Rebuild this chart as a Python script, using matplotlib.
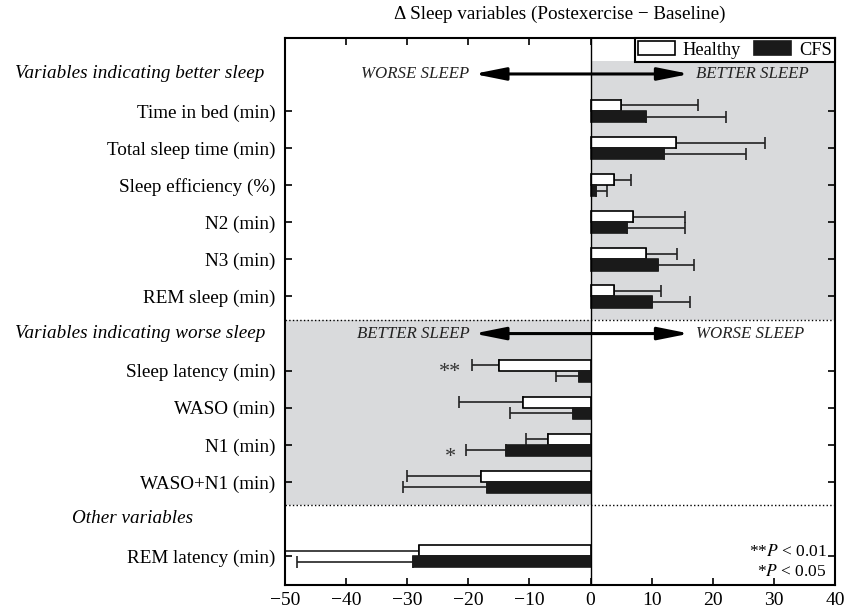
import matplotlib.pyplot as plt
import numpy as np

plt.rcParams['font.family'] = ['Liberation Serif', 'DejaVu Serif']
plt.rcParams['mathtext.fontset'] = 'stix'

# group headers and the variables in each group
groups = ["Variables indicating better sleep",
          "Variables indicating worse sleep",
          "Other variables"]
group_vars = [
    ["Time in bed (min)", "Total sleep time (min)", "Sleep efficiency (%)",
     "N2 (min)", "N3 (min)", "REM sleep (min)"],
    ["Sleep latency (min)", "WASO (min)", "N1 (min)", "WASO+N1 (min)"],
    ["REM latency (min)"],
]

# change (postexercise - baseline) and error bar length
healthy = [5.0, 14.0, 3.9, 6.9, 9.0, 3.9, -15.0, -11.0, -7.0, -18.0, -28.0]
healthy_err = [12.6, 14.5, 2.8, 8.5, 5.1, 7.7, 4.4, 10.6, 3.6, 12.0, 22.0]
cfs = [9.1, 12.1, 0.9, 6.0, 11.0, 10.0, -1.9, -2.8, -13.9, -16.9, -29.0]
cfs_err = [13.1, 13.3, 1.8, 9.4, 5.9, 6.3, 3.8, 10.4, 6.4, 13.8, 19.0]

# significance marks: (variable, series, mark)
marks = [("Sleep latency (min)", "Healthy", "**"), ("N1 (min)", "CFS", "*")]

# row positions: one row for each header, then its variables
labels, ypos, head_pos = [], [], []
r = 0
for g, vs in zip(groups, group_vars):
    head_pos.append(r)
    r += 1
    for v in vs:
        labels.append(v)
        ypos.append(r)
        r += 1
ypos = np.array(ypos, dtype=float)
healthy = np.array(healthy)
cfs = np.array(cfs)
healthy_err = np.array(healthy_err)
cfs_err = np.array(cfs_err)

fig = plt.figure(figsize=(8.45, 6.13), dpi=100)
ax = fig.add_axes([285/845, 1-585/613, 550/845, 547/613])

xmin, xmax = -50, 40
ax.set_xlim(xmin, xmax)
ax.set_ylim(13.78, -0.97)

gray = '#d9dadc'
sep1 = (head_pos[1] + ypos[len(group_vars[0]) - 1]) / 2 + 0.14
sep2 = (head_pos[2] + ypos[len(group_vars[0]) + len(group_vars[1]) - 1]) / 2 + 0.13
ax.fill_between([0, xmax], -0.35, sep1, color=gray, lw=0, zorder=0)
ax.fill_between([xmin, 0], sep1, sep2, color=gray, lw=0, zorder=0)
ax.axhline(sep1, color='black', ls=':', lw=1, zorder=1)
ax.axhline(sep2, color='black', ls=':', lw=1, zorder=1)
ax.axvline(0, color='black', lw=1.0, zorder=4)

h = 0.3
ax.barh(ypos - h/2, healthy, height=h, color='white', edgecolor='black',
        lw=1.2, label='Healthy', zorder=3)
ax.barh(ypos + h/2, cfs, height=h, color='#1a1a1a', edgecolor='#1a1a1a',
        lw=1.2, label='CFS', zorder=3)


def one_sided(vals, errs):
    lo = np.where(vals < 0, errs, 0)
    hi = np.where(vals >= 0, errs, 0)
    return [lo, hi]


ax.errorbar(healthy, ypos - h/2, xerr=one_sided(healthy, healthy_err), fmt='none',
            ecolor='#222222', elinewidth=1.2, capsize=4, capthick=1.2, zorder=2)
ax.errorbar(cfs, ypos + h/2, xerr=one_sided(cfs, cfs_err), fmt='none',
            ecolor='#222222', elinewidth=1.2, capsize=4, capthick=1.2, zorder=2)

for var, ser, m in marks:
    i = labels.index(var)
    y = ypos[i] - h/2 if ser == 'Healthy' else ypos[i] + h/2
    ax.text(-23, y + 0.2, m, ha='center', va='center', fontsize=16, color='#333333')

# direction arrows
for k, (left, right) in enumerate([("WORSE SLEEP", "BETTER SLEEP"),
                                   ("BETTER SLEEP", "WORSE SLEEP")]):
    y = head_pos[k]
    ax.annotate('', xy=(-19.1, y), xytext=(16.2, y),
                arrowprops=dict(arrowstyle='<|-|>,head_length=1.9,head_width=0.38',
                                color='black', lw=2.2, shrinkA=0, shrinkB=0), zorder=5)
    ax.text(-19.8, y, left, ha='right', va='center', style='italic', fontsize=12.2,
            color='#222222')
    ax.text(17.3, y, right, ha='left', va='center', style='italic', fontsize=12.2,
            color='#222222')

ax.set_yticks(ypos)
ax.set_yticklabels(labels, fontsize=13.8)
ax.set_xticks(np.arange(-50, 41, 10))
ax.tick_params(axis='x', labelsize=14, pad=5)
ax.tick_params(axis='y', pad=7)
ax.tick_params(direction='in', top=True, right=True, length=5, width=1.2)
for s in ax.spines.values():
    s.set_linewidth(1.5)

head_x = [-0.2636, -0.2636, -0.277]
for g, y, hx in zip(groups, head_pos, head_x):
    ax.text(hx, y, g, transform=ax.get_yaxis_transform(), ha='center',
            va='center', style='italic', fontsize=13.8)

ax.text(38.6, 12.89, r'**$P$ < 0.01', ha='right', va='center', fontsize=12.5)
ax.text(38.6, 13.42, r'*$P$ < 0.05', ha='right', va='center', fontsize=12.5)

leg = ax.legend(loc='upper right', ncol=2, fontsize=13.2, borderaxespad=0,
                fancybox=False, edgecolor='black', framealpha=1,
                handlelength=2.0, handleheight=0.8, columnspacing=0.7,
                borderpad=0.18, handletextpad=0.45)
leg.get_frame().set_linewidth(1.5)

fig.text(560/845, 1-14/613, 'Δ Sleep variables (Postexercise − Baseline)',
         ha='center', va='center', fontsize=13.8)

fig.savefig('out.png', dpi=100)
